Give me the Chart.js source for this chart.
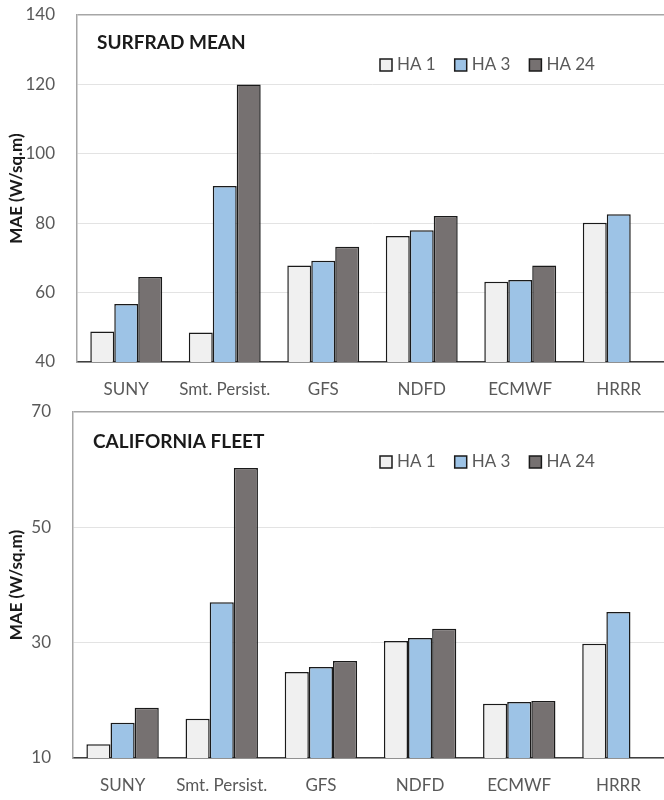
<!DOCTYPE html>
<html>
<head>
<meta charset="utf-8">
<script src="https://cdn.jsdelivr.net/npm/chart.js@4.4.0/dist/chart.umd.min.js"></script>
<style>
    html, body { margin: 0; padding: 0; background: #fff; overflow: hidden; width: 664px; height: 800px; }
    .box { width: 672px; height: 400px; }
    canvas { display: block; }
</style>
</head>
<body>
<div class="box"><canvas id="surfradChart" width="672" height="400"></canvas></div>
<div class="box"><canvas id="californiaChart" width="672" height="400"></canvas></div>
<script>
// Forecast models on the x axis
const forecastModels = ['SUNY', 'Smt. Persist.', 'GFS', 'NDFD', 'ECMWF', 'HRRR'];
const seriesNames = ['HA 1', 'HA 3', 'HA 24'];

// SURFRAD mean MAE (W/sq.m)
const surfradHA1 = [48.8, 48.5, 67.8, 76.3, 63.1, 80.1];
const surfradHA3 = [56.7, 90.7, 69.2, 78.0, 63.6, 82.6];
const surfradHA24 = [64.5, 120.0, 73.2, 82.1, 67.8, null];
const surfradTicks = [40, 60, 80, 100, 120, 140];

// California fleet MAE (W/sq.m)
const californiaHA1 = [12.4, 16.8, 24.9, 30.3, 19.4, 29.8];
const californiaHA3 = [16.1, 37.0, 25.8, 30.8, 19.7, 35.3];
const californiaHA24 = [18.7, 60.3, 26.8, 32.4, 19.9, null];
const californiaTicks = [10, 30, 50, 70];

const seriesColors = ['#f0f0f0', '#9dc3e6', '#767171'];
const FONT = 'Lato';

// Draws the panel title and the legend inside the plot area
const insideLabels = {
    id: 'insideLabels',
    afterDraw(chart, args, opts) {
        const {ctx, chartArea} = chart;
        ctx.save();
        ctx.textBaseline = 'middle';
        ctx.font = `bold 19px ${FONT}`;
        ctx.fillStyle = '#1a1a1a';
        ctx.fillText(opts.title, chartArea.left + 20, chartArea.top + opts.titleY);

        let x = 380;
        const y = chartArea.top + opts.legendY;
        ctx.font = `17px ${FONT}`;
        chart.data.datasets.forEach(ds => {
            ctx.fillStyle = ds.backgroundColor;
            ctx.fillRect(x, y - 6, 12, 12);
            ctx.strokeStyle = '#1a1a1a';
            ctx.lineWidth = 1.5;
            ctx.strokeRect(x, y - 6, 12, 12);
            ctx.fillStyle = '#595959';
            ctx.fillText(ds.label, x + 17, y);
            x += 17 + ctx.measureText(ds.label).width + 19;
        });
        ctx.restore();
    }
};

function createPanel(canvasId, title, ticks, ha1, ha3, ha24, geom) {
    const ctx = document.getElementById(canvasId).getContext('2d');
    const yMin = ticks[0];
    const yMax = ticks[ticks.length - 1];
    const values = [ha1, ha3, ha24];

    return new Chart(ctx, {
        type: 'bar',
        data: {
            labels: forecastModels,
            datasets: seriesNames.map((name, i) => ({
                label: name,
                data: values[i],
                backgroundColor: seriesColors[i],
                borderColor: '#1a1a1a',
                borderWidth: 1.5,
                categoryPercentage: 0.73,
                barPercentage: 1.0
            }))
        },
        options: {
            responsive: false,
            animation: false,
            layout: {
                padding: {top: geom.top, right: 4, left: 0, bottom: 0}
            },
            plugins: {
                legend: {display: false},
                tooltip: {enabled: false},
                insideLabels: {title: title, titleY: geom.titleY, legendY: geom.legendY}
            },
            scales: {
                x: {
                    grid: {display: false},
                    border: {display: true, color: '#404040', width: 1.5},
                    ticks: {
                        color: '#595959',
                        font: {family: FONT, size: 17},
                        padding: geom.xPad,
                        maxRotation: 0,
                        autoSkip: false
                    },
                    afterFit(scale) {
                        scale.height = geom.xHeight;
                        scale.paddingLeft = 0;
                        scale.paddingRight = 0;
                    }
                },
                y: {
                    min: yMin,
                    max: yMax,
                    afterBuildTicks(scale) {
                        scale.ticks = ticks.map(v => ({value: v}));
                    },
                    grid: {
                        drawTicks: false,
                        color: c => (c.tick && c.tick.value === yMax) ? '#a6a6a6' : '#e3e3e3',
                        lineWidth: c => (c.tick && c.tick.value === yMax) ? 1.5 : 1
                    },
                    border: {display: true, color: '#a6a6a6', width: 1.5},
                    ticks: {
                        color: '#595959',
                        font: {family: FONT, size: 17},
                        padding: 22
                    },
                    title: {
                        display: true,
                        text: 'MAE (W/sq.m)',
                        color: '#1a1a1a',
                        font: {family: FONT, size: 17, weight: 'bold'},
                        padding: {top: 6, bottom: 0}
                    },
                    afterFit(scale) {
                        scale.width = geom.left;
                        scale.paddingTop = 0;
                        scale.paddingBottom = 0;
                    }
                }
            }
        },
        plugins: [insideLabels]
    });
}

document.fonts.load(`17px ${FONT}`).then(() => document.fonts.load(`bold 19px ${FONT}`)).finally(() => {
    createPanel('surfradChart', 'SURFRAD MEAN', surfradTicks, surfradHA1, surfradHA3, surfradHA24,
        {top: 15, left: 77, xHeight: 38, xPad: 9, titleY: 28, legendY: 50});
    createPanel('californiaChart', 'CALIFORNIA FLEET', californiaTicks, californiaHA1, californiaHA3, californiaHA24,
        {top: 12, left: 73, xHeight: 42, xPad: 9, titleY: 30, legendY: 50});
});
</script>
</body>
</html>
